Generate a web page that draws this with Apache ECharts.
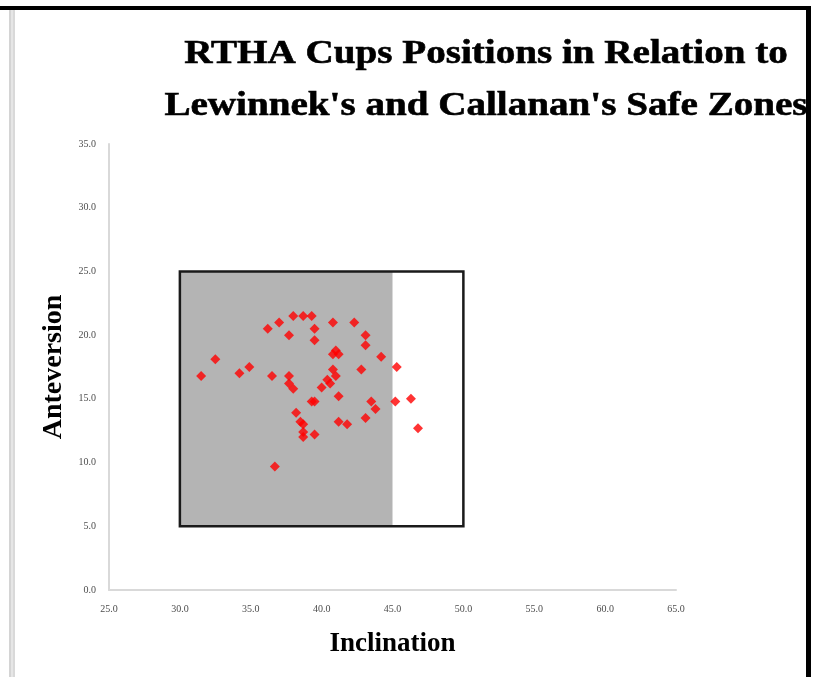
<!DOCTYPE html>
<html>
<head>
<meta charset="utf-8">
<title>RTHA Cups Positions</title>
<script src="https://cdn.jsdelivr.net/npm/echarts@6/dist/echarts.min.js"></script>
<style>
  html, body { margin: 0; padding: 0; background: #ffffff; }
  #chart { width: 814px; height: 677px; }
</style>
</head>
<body>
<div id="chart"></div>
<script>
// Cup positions: inclination (deg) and anteversion (deg), one entry per cup
const inclination = [
  31.5, 32.5, 34.2, 34.9, 36.5, 36.2, 37.0, 38.0, 38.7, 39.3,
  37.7, 39.5, 39.5, 40.8, 42.3, 43.1, 43.1, 40.8, 41.0, 41.2,
  44.2, 45.3, 40.8, 41.0, 42.8, 37.7, 37.7, 38.0, 40.4, 40.6,
  40.0, 41.2, 39.3, 39.5, 43.5, 43.8, 45.2, 46.3, 38.2, 38.5,
  38.7, 38.7, 38.7, 39.5, 41.2, 41.8, 43.1, 46.8, 36.7
];
const anteversion = [
  16.8, 18.1, 17.0, 17.5, 16.8, 20.5, 21.0, 21.5, 21.5, 21.5,
  20.0, 20.5, 19.6, 21.0, 21.0, 20.0, 19.2, 18.5, 18.8, 18.5,
  18.3, 17.5, 17.3, 16.8, 17.3, 16.8, 16.2, 15.8, 16.5, 16.2,
  15.9, 15.2, 14.8, 14.8, 14.8, 14.2, 14.8, 15.0, 13.9, 13.2,
  13.0, 12.4, 12.0, 12.2, 13.2, 13.0, 13.5, 12.7, 9.7
];

// Safe zones as [inclination min, anteversion min, inclination max, anteversion max]
const callananZone = [30, 5, 45, 25];
const lewinnekZone = [30, 5, 50, 25];

// Axis ranges and tick steps
const xRange = [25, 65], xStep = 5;
const yRange = [0, 35], yStep = 5;

const titleLines = ['RTHA Cups Positions in Relation to', "Lewinnek's and Callanan's Safe Zones"];

const points = inclination.map((v, i) => [v, anteversion[i]]);

const chart = echarts.init(document.getElementById('chart'), null, { renderer: 'canvas' });

const serif = '"Liberation Serif", "Times New Roman", serif';

function zoneRect(api, zone) {
  const p1 = api.coord([zone[0], zone[3]]);
  const p2 = api.coord([zone[2], zone[1]]);
  return { x: p1[0], y: p1[1], width: p2[0] - p1[0], height: p2[1] - p1[1] };
}

function titleText(text, y) {
  return {
    type: 'text', x: 486, y: y, scaleX: 1.15, z: 50,
    style: {
      text: text, fontFamily: serif, fontWeight: 'bold', fontSize: 34,
      fill: '#000', stroke: '#000', lineWidth: 0.6,
      align: 'center', verticalAlign: 'middle', textAlign: 'center', textVerticalAlign: 'middle'
    }
  };
}

const option = {
  backgroundColor: '#ffffff',
  animation: false,
  grid: { left: 109, right: 138, top: 144, bottom: 87, containLabel: false },
  xAxis: {
    type: 'value',
    min: xRange[0], max: xRange[1], interval: xStep,
    name: 'Inclination',
    nameLocation: 'middle',
    nameGap: 41,
    nameTextStyle: { fontFamily: serif, fontWeight: 'bold', fontSize: 27, color: '#000' },
    axisLine: { show: true, lineStyle: { color: '#d9d9d9', width: 2 } },
    axisTick: { show: false },
    splitLine: { show: false },
    axisLabel: {
      margin: 14, fontFamily: serif, fontSize: 10, color: '#4d4d4d',
      formatter: v => v.toFixed(1)
    }
  },
  yAxis: {
    type: 'value',
    min: yRange[0], max: yRange[1], interval: yStep,
    name: 'Anteversion',
    nameLocation: 'middle',
    nameRotate: 90,
    nameGap: 40,
    nameTextStyle: { fontFamily: serif, fontWeight: 'bold', fontSize: 28, color: '#000' },
    axisLine: { show: true, lineStyle: { color: '#d9d9d9', width: 2 } },
    axisTick: { show: false },
    splitLine: { show: false },
    axisLabel: {
      margin: 13, fontFamily: serif, fontSize: 10, color: '#4d4d4d',
      formatter: v => v.toFixed(1)
    }
  },
  graphic: [
    // page frame
    { type: 'rect', shape: { x: 0, y: 6, width: 810, height: 4 }, style: { fill: '#000' }, z: 100 },
    { type: 'rect', shape: { x: 806, y: 6, width: 5, height: 671 }, style: { fill: '#000' }, z: 100 },
    { type: 'rect', shape: { x: 9, y: 10, width: 2, height: 667 }, style: { fill: '#d4d4d4' }, z: 100 },
    { type: 'rect', shape: { x: 11, y: 10, width: 2, height: 667 }, style: { fill: '#e6e6e6' }, z: 100 },
    { type: 'rect', shape: { x: 13, y: 10, width: 2, height: 667 }, style: { fill: '#d9d9d9' }, z: 100 },
    // two-line title
    titleText(titleLines[0], 54),
    titleText(titleLines[1], 106)
  ],
  series: [
    {
      // Callanan's zone (filled) and Lewinnek's zone (outlined)
      type: 'custom',
      z: 1,
      silent: true,
      data: [0],
      renderItem: function (params, api) {
        return {
          type: 'group',
          children: [
            { type: 'rect', shape: zoneRect(api, callananZone), style: { fill: '#b4b4b4' } },
            { type: 'rect', shape: zoneRect(api, lewinnekZone), style: { fill: 'none', stroke: '#1a1a1a', lineWidth: 2.5 } }
          ]
        };
      }
    },
    {
      name: 'Cups',
      type: 'scatter',
      z: 5,
      symbol: 'diamond',
      symbolSize: 10,
      itemStyle: { color: '#ff0000' },
      data: points
    }
  ]
};

chart.setOption(option);
</script>
</body>
</html>
